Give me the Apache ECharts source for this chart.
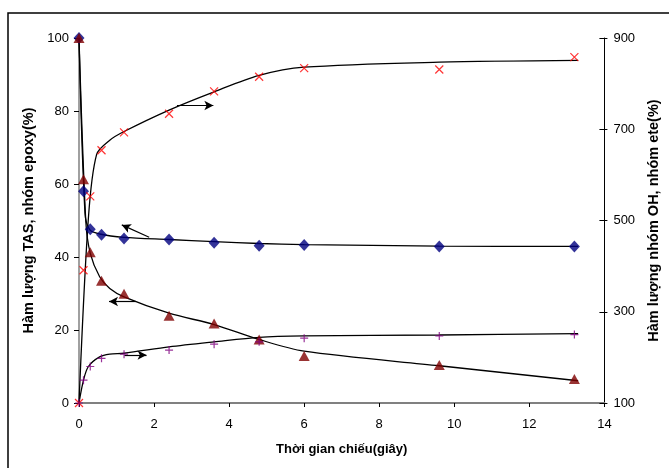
<!DOCTYPE html>
<html>
<head>
<meta charset="utf-8">
<script src="https://cdn.jsdelivr.net/npm/echarts@6/dist/echarts.min.js"></script>
<style>
  html, body { margin: 0; padding: 0; background: #fff; }
  #chart { width: 669px; height: 468px; }
</style>
</head>
<body>
<div id="chart"></div>
<script>
// Irradiation time (s)
const time = [0, 0.12, 0.3, 0.6, 1.2, 2.4, 3.6, 4.8, 6, 9.6, 13.2];

// Left axis (%): TAS and epoxy group content
const tas   = [100, 58, 47.6, 46.1, 45.1, 44.8, 43.9, 43.1, 43.3, 42.9, 42.9];
const epoxy = [100, 61.3, 41.3, 33.5, 29.9, 23.9, 21.8, 17.4, 12.9, 10.4, 6.6];

// Right axis (%): OH group and ether group content
const oh  = [100, 391, 553, 654, 693, 734, 783, 815, 834, 831, 858];
const ete = [100, 150, 180, 198, 207, 216, 229, 234, 242, 247, 250];

// Smoothed trend curves
const tasFitX   = [0, 0.16, 0.29, 0.55, 1.2, 2.4, 3.6, 4.8, 6, 9.6, 13.3];
const tasFitY   = [100, 52, 47.4, 46.3, 45.4, 44.8, 44.2, 43.7, 43.4, 43.0, 42.9];
const epoxyFitX = [0, 0.18, 0.3, 0.55, 0.82, 1.2, 2.4, 3.6, 4.8, 6, 9.6, 13.3];
const epoxyFitY = [100, 50, 41, 34.6, 31.4, 29.1, 24.6, 21.5, 17.4, 14.2, 10.2, 6.1];
const ohFitX    = [0, 0.25, 0.47, 0.82, 1.2, 2.4, 3.6, 4.8, 6, 9.6, 13.3];
const ohFitY    = [100, 505, 645, 676, 695, 742, 782, 818, 836, 847, 851];
const eteFitX   = [0, 0.12, 0.25, 0.55, 0.82, 1.2, 2.4, 3.6, 4.8, 6, 9.6, 13.3];
const eteFitY   = [100, 150, 180, 201, 207, 209, 223, 234, 244, 247, 249, 252];

// Axis ticks
const xTicks = [0, 2, 4, 6, 8, 10, 12, 14];
const leftTicks = [0, 20, 40, 60, 80, 100];
const rightTicks = [100, 300, 500, 700, 900];

// Arrows pointing each curve to its axis: [x1, y1, x2, y2] in data units
const tasArrow   = [1.87, 45.4, 1.14, 48.8];
const epoxyArrow = [1.52, 27.8, 0.80, 27.8];
const ohArrow    = [2.61, 752, 3.58, 752];
const eteArrow   = [1.21, 205, 1.80, 205];

const pairs = (xs, ys) => xs.map((x, i) => [x, ys[i]]);
const FONT = 'Liberation Sans, Arial, sans-serif';

const crossPath = 'path://M0,0L10,10M10,0L0,10';
const plusPath = 'path://M5,0L5,10M0,5L10,5';

function arrow(a) {
  return {
    silent: true,
    symbol: ['none', 'arrow'],
    symbolSize: [7, 9],
    label: { show: false },
    lineStyle: { color: '#000', width: 1.2, type: 'solid' },
    data: [[{ coord: [a[0], a[1]] }, { coord: [a[2], a[3]] }]]
  };
}

function curve(name, xs, ys, axis, arr) {
  return {
    name: name,
    type: 'line',
    yAxisIndex: axis,
    data: pairs(xs, ys),
    smooth: 0.3,
    showSymbol: false,
    symbol: 'none',
    lineStyle: { color: '#000', width: 1.3 },
    z: 2,
    markLine: arrow(arr)
  };
}

const chart = echarts.init(document.getElementById('chart'), null, { renderer: 'canvas' });

const labelStyle = { color: '#000', fontFamily: FONT, fontSize: 13 };
const xNameStyle = { color: '#000', fontFamily: FONT, fontSize: 13, fontWeight: 'bold' };
const yNameStyle = { color: '#000', fontFamily: FONT, fontSize: 14.5, fontWeight: 'bold' };

chart.setOption({
  animation: false,
  backgroundColor: '#fff',
  graphic: [{
    type: 'rect',
    shape: { x: 8, y: 13, width: 700, height: 500 },
    style: { fill: 'none', stroke: '#000', lineWidth: 1.5 },
    silent: true, z: -1
  }],
  grid: { left: 79, right: 58, top: 38, bottom: 65, containLabel: false },
  xAxis: {
    type: 'value',
    min: xTicks[0], max: xTicks[xTicks.length - 1], interval: 2,
    name: 'Thời gian chiếu(giây)',
    nameLocation: 'middle', nameGap: 40,
    nameTextStyle: xNameStyle,
    axisLine: { show: true, onZero: false, lineStyle: { color: '#808080', width: 2 } },
    axisTick: { show: true, length: 4, lineStyle: { color: '#000' } },
    axisLabel: Object.assign({ margin: 15 }, labelStyle),
    splitLine: { show: false }
  },
  yAxis: [{
    type: 'value', position: 'left',
    min: leftTicks[0], max: leftTicks[leftTicks.length - 1], interval: 20,
    name: 'Hàm lượng TAS, nhóm epoxy(%)',
    nameLocation: 'middle', nameGap: 28, nameRotate: 90,
    nameTextStyle: yNameStyle,
    axisLine: { show: true, lineStyle: { color: '#808080', width: 1.5 } },
    axisTick: { show: true, length: 5, lineStyle: { color: '#000' } },
    axisLabel: Object.assign({ margin: 10 }, labelStyle),
    splitLine: { show: false }
  }, {
    type: 'value', position: 'right',
    min: rightTicks[0], max: rightTicks[rightTicks.length - 1], interval: 200,
    name: 'Hàm lượng nhóm OH, nhóm ete(%)',
    nameLocation: 'middle', nameGap: 41, nameRotate: 90,
    nameTextStyle: yNameStyle,
    axisLine: { show: true, lineStyle: { color: '#000', width: 1 } },
    axisTick: { show: true, length: 3, lineStyle: { color: '#000' } },
    axisLabel: Object.assign({ margin: 9 }, labelStyle),
    splitLine: { show: false }
  }, {
    // inner half of the right-axis tick marks
    type: 'value', position: 'right',
    min: rightTicks[0], max: rightTicks[rightTicks.length - 1], interval: 200,
    axisLine: { show: false },
    axisTick: { show: true, inside: true, length: 5, lineStyle: { color: '#000' } },
    axisLabel: { show: false },
    splitLine: { show: false }
  }],
  series: [
    curve('TAS (đường)', tasFitX, tasFitY, 0, tasArrow),
    curve('Epoxy (đường)', epoxyFitX, epoxyFitY, 0, epoxyArrow),
    curve('OH (đường)', ohFitX, ohFitY, 1, ohArrow),
    curve('Ete (đường)', eteFitX, eteFitY, 1, eteArrow),
    {
      name: 'TAS', type: 'scatter', yAxisIndex: 0,
      data: pairs(time, tas),
      symbol: 'diamond', symbolSize: [11, 12],
      itemStyle: { color: '#000080' }, z: 4
    },
    {
      name: 'Epoxy', type: 'scatter', yAxisIndex: 0,
      data: pairs(time, epoxy),
      symbol: 'triangle', symbolSize: [11, 10],
      itemStyle: { color: '#800000' }, z: 5
    },
    {
      name: 'OH', type: 'scatter', yAxisIndex: 1,
      data: pairs(time, oh),
      symbol: crossPath, symbolSize: 8,
      itemStyle: { color: 'none', borderColor: '#ff0000', borderWidth: 1.2 }, z: 6
    },
    {
      name: 'Ete', type: 'scatter', yAxisIndex: 1,
      data: pairs(time, ete),
      symbol: plusPath, symbolSize: 8,
      itemStyle: { color: 'none', borderColor: '#800080', borderWidth: 1.2 }, z: 6
    }
  ]
});
</script>
</body>
</html>
